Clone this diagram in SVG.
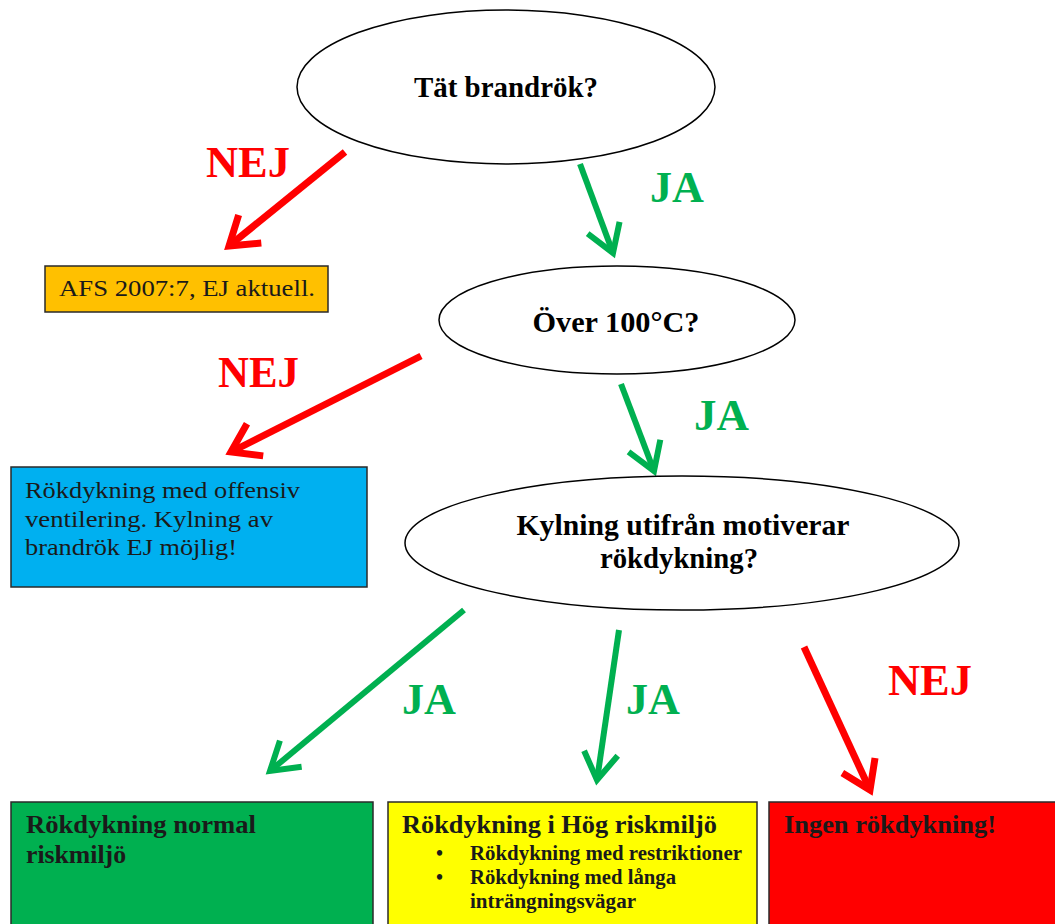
<svg xmlns="http://www.w3.org/2000/svg" width="1055" height="924" viewBox="0 0 1055 924">
<style>
.ell{fill:#fff;stroke:#000;stroke-width:1.5}
.box{stroke:#2a2a2a;stroke-width:1.5}
.q{font-family:"Liberation Serif","Times New Roman",serif;font-weight:bold;font-size:30px;fill:#000;text-anchor:middle}
.lab{font-family:"Liberation Serif","Times New Roman",serif;font-weight:bold;font-size:44px}
.nej{fill:#ff0000}
.ja{fill:#00b050}
.reg{font-family:"Liberation Serif","Times New Roman",serif;font-size:24px;fill:#1a1a1a}
.bt{font-family:"Liberation Serif","Times New Roman",serif;font-weight:bold;font-size:26px;fill:#1a1a1a}
.bs{font-family:"Liberation Serif","Times New Roman",serif;font-weight:bold;font-size:20px;fill:#1a1a1a}
.r{stroke:#ff0000;stroke-width:7;fill:none;marker-end:url(#hr)}
.g{stroke:#00b050;stroke-width:6;fill:none;marker-end:url(#hg)}
</style>
<defs>
<marker id="hr" markerUnits="userSpaceOnUse" orient="auto" refX="0" refY="0" markerWidth="60" markerHeight="60" viewBox="-40 -30 60 60" overflow="visible">
<path d="M -27 -18 L 0 0 L -27 18" fill="none" stroke="#ff0000" stroke-width="7"/>
</marker>
<marker id="hg" markerUnits="userSpaceOnUse" orient="auto" refX="0" refY="0" markerWidth="60" markerHeight="60" viewBox="-40 -30 60 60" overflow="visible">
<path d="M -27 -17 L 0 0 L -27 17" fill="none" stroke="#00b050" stroke-width="6"/>
</marker>
</defs>
<rect width="1055" height="924" fill="#fff"/>

<g id="connectors">
<line class="r" x1="345" y1="152" x2="229" y2="246"/>
<line class="g" x1="580" y1="164" x2="613" y2="253"/>
<line class="r" x1="421" y1="356" x2="231" y2="452"/>
<line class="g" x1="621" y1="384" x2="654" y2="471"/>
<line class="g" x1="464" y1="610" x2="270" y2="771"/>
<line class="g" x1="619" y1="630" x2="597" y2="780"/>
<line class="r" x1="804" y1="647" x2="870" y2="790"/>
<text class="lab nej" x="206" y="177" textLength="84" lengthAdjust="spacingAndGlyphs">NEJ</text>
<text class="lab ja" x="650" y="202" textLength="54" lengthAdjust="spacingAndGlyphs">JA</text>
<text class="lab nej" x="218" y="387" textLength="81" lengthAdjust="spacingAndGlyphs">NEJ</text>
<text class="lab ja" x="694" y="430" textLength="55" lengthAdjust="spacingAndGlyphs">JA</text>
<text class="lab ja" x="402" y="714" textLength="54" lengthAdjust="spacingAndGlyphs">JA</text>
<text class="lab ja" x="626" y="714" textLength="54" lengthAdjust="spacingAndGlyphs">JA</text>
<text class="lab nej" x="888" y="695" textLength="84" lengthAdjust="spacingAndGlyphs">NEJ</text>
</g>

<g id="q1">
<ellipse class="ell" cx="506" cy="87" rx="209" ry="77"/>
<text class="q" x="506" y="97" textLength="184" lengthAdjust="spacingAndGlyphs">Tät brandrök?</text>
</g>

<g id="afs">
<rect class="box" x="45" y="266" width="283" height="46" fill="#ffc000"/>
<text class="reg" x="59" y="296" textLength="256" lengthAdjust="spacingAndGlyphs">AFS 2007:7, EJ aktuell.</text>
</g>

<g id="q2">
<ellipse class="ell" cx="617" cy="320" rx="178" ry="54"/>
<text class="q" x="616" y="332" textLength="167" lengthAdjust="spacingAndGlyphs">Över 100°C?</text>
</g>

<g id="blue">
<rect class="box" x="11" y="467" width="356" height="120" fill="#00b0f0"/>
<text class="reg" x="25" y="498" textLength="275" lengthAdjust="spacingAndGlyphs">Rökdykning med offensiv</text>
<text class="reg" x="25" y="527" textLength="248" lengthAdjust="spacingAndGlyphs">ventilering. Kylning av</text>
<text class="reg" x="25" y="555" textLength="212" lengthAdjust="spacingAndGlyphs">brandrök EJ möjlig!</text>
</g>

<g id="q3">
<ellipse class="ell" cx="682" cy="543" rx="277" ry="67"/>
<text class="q" x="683" y="535" textLength="333" lengthAdjust="spacingAndGlyphs">Kylning utifrån motiverar</text>
<text class="q" x="679" y="568" textLength="158" lengthAdjust="spacingAndGlyphs">rökdykning?</text>
</g>

<g id="normal">
<rect class="box" x="11" y="802" width="362" height="130" fill="#00b050"/>
<text class="bt" x="26" y="833" textLength="230" lengthAdjust="spacingAndGlyphs">Rökdykning normal</text>
<text class="bt" x="26" y="863" textLength="100" lengthAdjust="spacingAndGlyphs">riskmiljö</text>
</g>

<g id="hog">
<rect class="box" x="388" y="802" width="369" height="130" fill="#ffff00"/>
<text class="bt" x="402" y="833" textLength="315" lengthAdjust="spacingAndGlyphs">Rökdykning i Hög riskmiljö</text>
<text class="bs" x="436" y="860">•</text>
<text class="bs" x="470" y="860" textLength="272" lengthAdjust="spacingAndGlyphs">Rökdykning med restriktioner</text>
<text class="bs" x="436" y="884">•</text>
<text class="bs" x="470" y="884" textLength="206" lengthAdjust="spacingAndGlyphs">Rökdykning med långa</text>
<text class="bs" x="470" y="908" textLength="166" lengthAdjust="spacingAndGlyphs">inträngningsvägar</text>
</g>

<g id="ingen">
<rect class="box" x="769" y="802" width="300" height="130" fill="#ff0000"/>
<text class="bt" x="784" y="833" textLength="212" lengthAdjust="spacingAndGlyphs">Ingen rökdykning!</text>
</g>
</svg>
